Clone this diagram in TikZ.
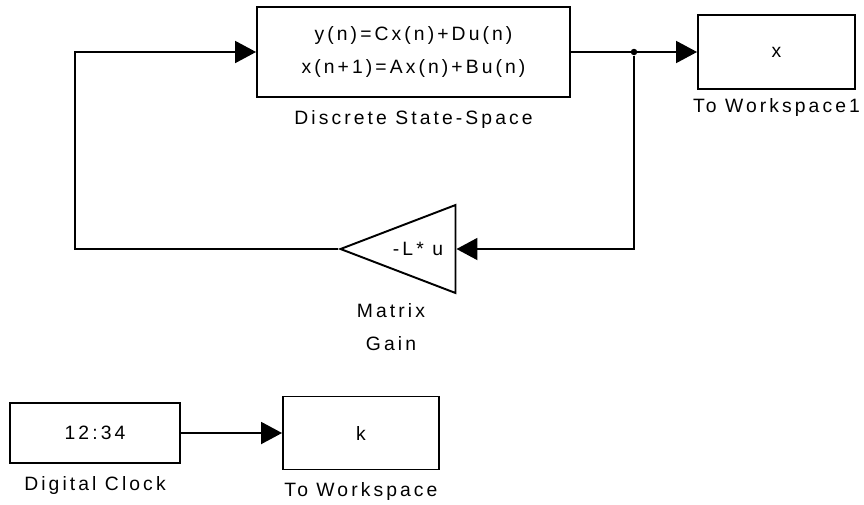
\documentclass[tikz,border=0pt]{standalone}
\usepackage{fontspec}
\setmainfont[LetterSpace=16]{Liberation Sans}
\usetikzlibrary{arrows.meta, shapes.geometric}

\begin{document}
\begin{tikzpicture}[
  x=0.02cm, y=-0.02cm,
  every node/.style={font=\fontsize{11}{19}\selectfont},
  blk/.style={draw, line width=1.1pt, rectangle, inner sep=0pt, align=center},
  lbl/.style={font=\fontsize{11}{19}\selectfont, align=center, inner sep=1pt},
  gainblk/.style={draw, line width=1.1pt, isosceles triangle, isosceles triangle stretches,
    shape border rotate=180, inner sep=0pt, minimum width=1.76cm, minimum height=2.3cm},
  sig/.style={line width=1.1pt, -{Triangle[length=0.42cm, width=0.44cm]}},
  dot/.style={circle, fill, inner sep=0pt, minimum size=0.13cm}
]
\useasboundingbox (0,0) rectangle (864,504);

% upper loop
\node[blk, minimum width=6.26cm, minimum height=1.8cm,
      label={[lbl, label distance=0.2cm]below:Discrete State-Space}] (ss) at (413.5,52)
      {y(n)=Cx(n)+Du(n)\\x(n+1)=Ax(n)+Bu(n)};
\node[blk, minimum width=3.14cm, minimum height=1.48cm,
      label={[lbl, label distance=0.12cm]below:To Workspace1}] (ws1) at (776.5,52) {x};
\node[gainblk, anchor=apex] (gain) at (338,249) {-L* u};
\node[lbl, anchor=north] (gainlbl) at (391,301) {Matrix\\Gain};
\node[dot] (br) at (634,52) {};
\coordinate (fb) at (75,249);

\draw[sig] (ss) -- (ws1);
\draw[sig] (br) |- (gain);
\draw[sig] (gain.apex) -- (fb) |- (ss);

% clock
\node[blk, minimum width=3.4cm, minimum height=1.2cm,
      label={[lbl, label distance=0.2cm]below:Digital Clock}] (clock) at (95,433) {12:34};
\node[blk, minimum width=3.12cm, minimum height=1.46cm,
      label={[lbl, label distance=0.2cm]below:To Workspace}] (ws) at (361,433) {k};
\draw[sig] (clock) -- (ws);
\end{tikzpicture}
\end{document}
